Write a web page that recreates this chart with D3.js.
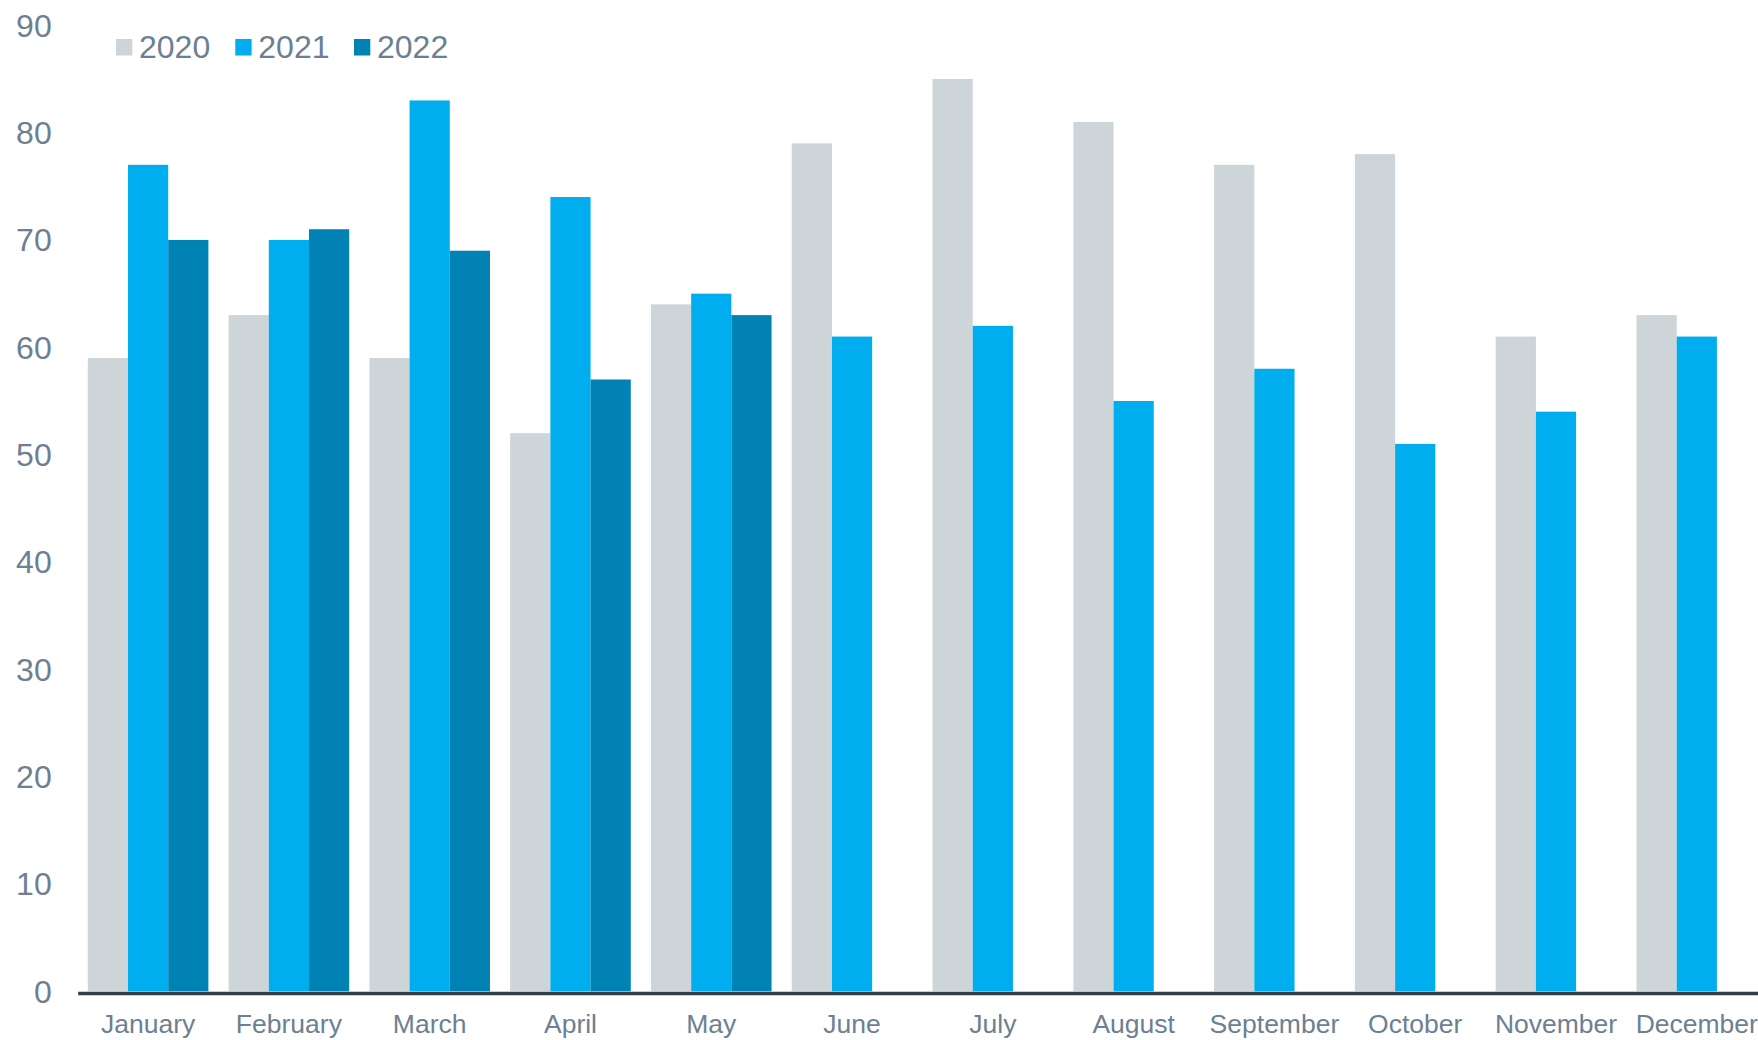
<!DOCTYPE html>
<html>
<head>
<meta charset="utf-8">
<script src="https://cdn.jsdelivr.net/npm/d3@7"></script>
<style>
  html, body { margin: 0; padding: 0; background: #fff; overflow: hidden; }
  svg { display: block; font-family: "Liberation Sans", Arial, sans-serif; }
</style>
</head>
<body>
<svg id="chart" width="1758" height="1040"></svg>
<script>
// Monthly values per year (2022 only runs through May)
const months = ["January", "February", "March", "April", "May", "June",
                "July", "August", "September", "October", "November", "December"];
const years = ["2020", "2021", "2022"];
const values2020 = [59, 63, 59, 52, 64, 79, 85, 81, 77, 78, 61, 63];
const values2021 = [77, 70, 83, 74, 65, 61, 62, 55, 58, 51, 54, 61];
const values2022 = [70, 71, 69, 57, 63, null, null, null, null, null, null, null];
const yTicks = [0, 10, 20, 30, 40, 50, 60, 70, 80, 90];
const colors = ["#CDD5D8", "#00ADEE", "#0083B4"];

const seriesValues = [values2020, values2021, values2022];
const rows = [];
months.forEach((m, i) => {
  years.forEach((yr, j) => {
    const v = seriesValues[j][i];
    if (v != null) rows.push({ month: m, year: yr, value: v, color: colors[j] });
  });
});

const svg = d3.select("#chart");
const textColor = "#6D7F93";

const x0 = d3.scaleBand()
  .domain(months)
  .range([77.7, 1767.2])
  .paddingInner(0.1435)
  .paddingOuter(0.07175);

const x1 = d3.scaleBand()
  .domain(years)
  .range([0, x0.bandwidth()]);

const y = d3.scaleLinear()
  .domain([0, 90])
  .range([991.3, 25.3]);

// Bars
svg.append("g")
  .selectAll("rect")
  .data(rows)
  .join("rect")
  .attr("x", d => x0(d.month) + x1(d.year))
  .attr("y", d => y(d.value))
  .attr("width", x1.bandwidth())
  .attr("height", d => y(0) - y(d.value))
  .attr("fill", d => d.color);

// Y axis labels (no axis line)
const yAxis = svg.append("g")
  .attr("transform", "translate(77.7,0)")
  .call(d3.axisLeft(y).tickValues(yTicks).tickSize(0).tickPadding(26).tickFormat(d3.format("d")));
yAxis.select(".domain").remove();
yAxis.selectAll("text")
  .attr("fill", textColor)
  .attr("font-size", 32)
  .attr("dy", "0.34em")
  .style("font-family", "'Liberation Sans', Arial, sans-serif");

// X axis with a heavy baseline
const xAxis = svg.append("g")
  .attr("transform", "translate(0,993)")
  .call(d3.axisBottom(x0).tickSize(0).tickSizeOuter(0).tickPadding(21));
xAxis.select(".domain")
  .attr("stroke", "#323C44")
  .attr("stroke-width", 3.7);
xAxis.selectAll("text")
  .attr("fill", textColor)
  .attr("font-size", 26.5)
  .style("font-family", "'Liberation Sans', Arial, sans-serif");

// Legend
const legendX = [116, 235.3, 354];
const legend = svg.append("g")
  .selectAll("g")
  .data(years)
  .join("g")
  .attr("transform", (d, i) => `translate(${legendX[i]},39)`);
legend.append("rect")
  .attr("width", 16.3)
  .attr("height", 16.5)
  .attr("fill", (d, i) => colors[i]);
legend.append("text")
  .attr("x", 23)
  .attr("y", 19.3)
  .attr("fill", textColor)
  .attr("font-size", 32)
  .text(d => d);
</script>
</body>
</html>
